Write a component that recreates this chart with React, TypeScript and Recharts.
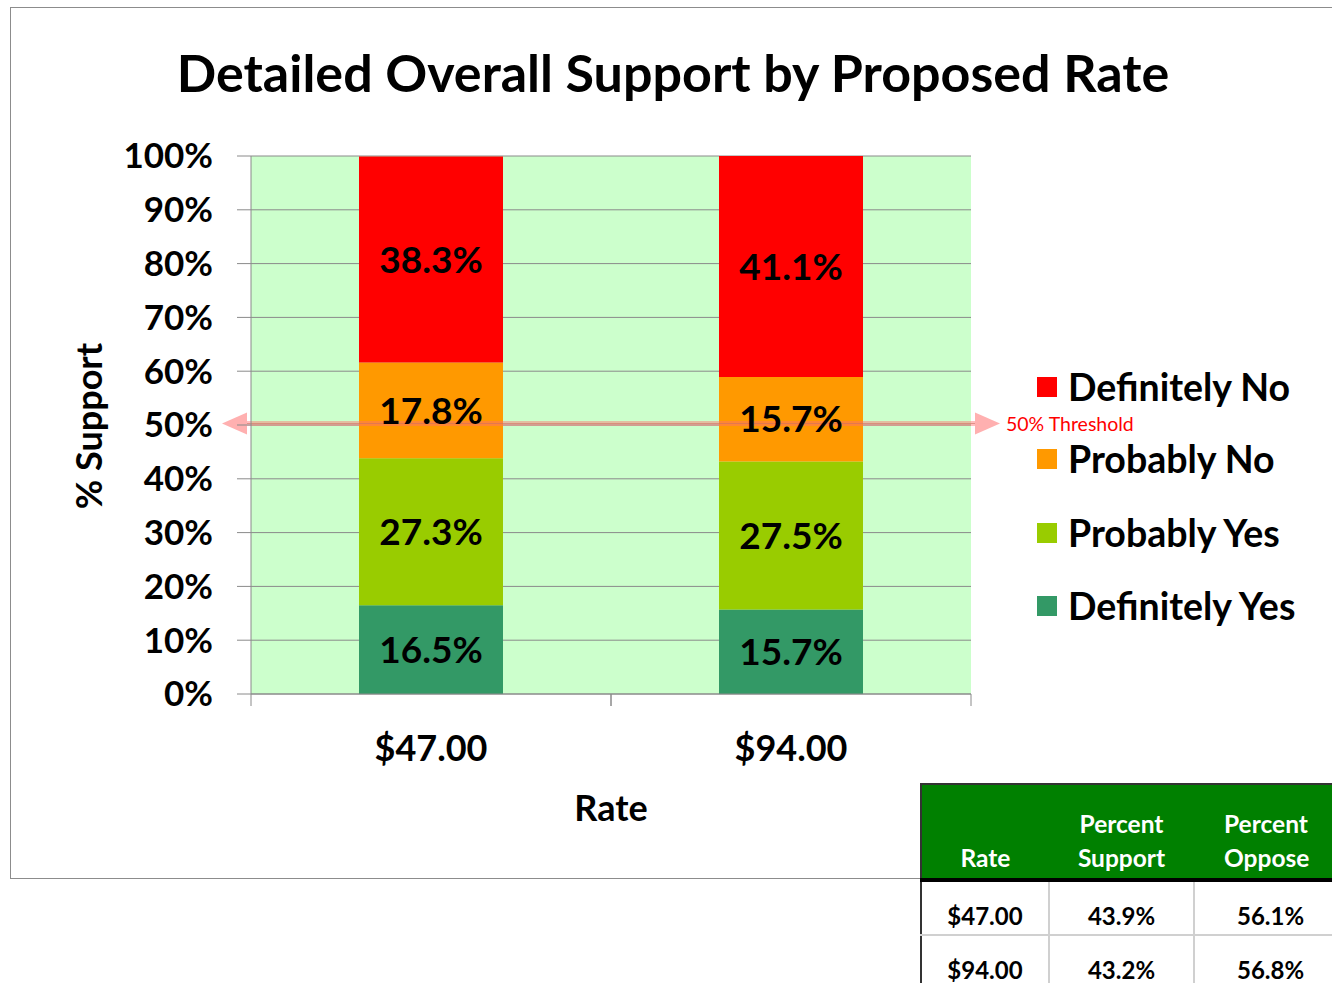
import React from 'react';
import { BarChart, Bar, XAxis, YAxis, CartesianGrid, ReferenceLine, LabelList } from 'recharts';

const rates = ['$47.00', '$94.00'];
const definitelyYes = [16.5, 15.7];
const probablyYes = [27.3, 27.5];
const probablyNo = [17.8, 15.7];
const definitelyNo = [38.3, 41.1];
const yTicks = [0, 10, 20, 30, 40, 50, 60, 70, 80, 90, 100];
const percentSupport = ['43.9%', '43.2%'];
const percentOppose = ['56.1%', '56.8%'];
const threshold = 50;

// stacking order bottom -> top
const series = [
    { key: 'definitelyYes', name: 'Definitely Yes', color: '#339966' },
    { key: 'probablyYes', name: 'Probably Yes', color: '#99CC00' },
    { key: 'probablyNo', name: 'Probably No', color: '#FF9900' },
    { key: 'definitelyNo', name: 'Definitely No', color: '#FF0000' },
];

const data = rates.map((rate, i) => ({
    rate,
    definitelyYes: definitelyYes[i],
    probablyYes: probablyYes[i],
    probablyNo: probablyNo[i],
    definitelyNo: definitelyNo[i],
}));

const FONT = 'Lato, "Open Sans", sans-serif';
const GRAY = '#8a8a8a';

const RateTick = (p: any) => {
    const { x, y, payload, width } = p;
    const band = (width || 720) / rates.length;
    return (
        <g>
            <line x1={x - band / 2} x2={x - band / 2} y1={y} y2={y + 12} stroke={GRAY} />
            <line x1={x + band / 2} x2={x + band / 2} y1={y} y2={y + 12} stroke={GRAY} />
            <text x={x} y={y + 53} textAnchor="middle" dominantBaseline="central"
                fontSize={36} fontWeight="bold" fill="#000" fontFamily={FONT}>
                {payload.value}
            </text>
        </g>
    );
};

const ThresholdLine = (p: any) => {
    const { x1, y1, x2 } = p;
    const y = y1 - 1.5;
    return (
        <g>
            <line x1={x1 - 4} x2={x2 + 4} y1={y} y2={y} stroke="#FF6F6F" strokeOpacity={0.45} strokeWidth={5} />
            <line x1={x1 - 4} x2={x2 + 4} y1={y} y2={y} stroke="#D07060" strokeOpacity={0.6} strokeWidth={1} />
            <polygon points={`${x1 - 29},${y} ${x1 - 4},${y - 11} ${x1 - 4},${y + 11}`} fill="#FFB0B0" />
            <polygon points={`${x2 + 29},${y} ${x2 + 4},${y - 11} ${x2 + 4},${y + 11}`} fill="#FFB0B0" />
            <text x={x2 + 35} y={y} dominantBaseline="central" fontSize={19.5} fill="#FF0000" fontFamily={FONT}>
                50% Threshold
            </text>
        </g>
    );
};

const cell: React.CSSProperties = {
    borderLeft: '2px solid #d0d0d0',
    borderBottom: '2px solid #d0d0d0',
    textAlign: 'center',
    fontWeight: 'bold',
    fontSize: 24,
    height: 49,
    padding: 0,
    paddingBottom: 3,
    verticalAlign: 'bottom',
    lineHeight: '30px',
};

const head: React.CSSProperties = {
    fontSize: 24.5,
    verticalAlign: 'bottom',
    lineHeight: '34px',
    padding: 0,
    paddingBottom: 3,
};

export default function App() {
    const legendItems = [...series].reverse();
    return (
        <div style={{ position: 'absolute', left: 0, top: 0, width: 1332, height: 983, overflow: 'hidden', background: '#fff', fontFamily: FONT }}>
            <div style={{ position: 'absolute', left: 10, top: 7, width: 1330, height: 872, border: '1.5px solid #8c8c8c', boxSizing: 'border-box' }} />
            <div style={{ position: 'absolute', left: 73, top: 39, width: 1200, textAlign: 'center', fontSize: 52, fontWeight: 'bold', lineHeight: '66px' }}>
                Detailed Overall Support by Proposed Rate
            </div>
            <div style={{ position: 'absolute', left: 88, top: 426, transform: 'translate(-50%, -50%) rotate(-90deg)', fontSize: 36, fontWeight: 'bold', whiteSpace: 'nowrap' }}>
                % Support
            </div>
            <div style={{ position: 'absolute', left: 511, width: 200, top: 785, textAlign: 'center', fontSize: 36, fontWeight: 'bold', lineHeight: '44px' }}>
                Rate
            </div>

            <div style={{ position: 'absolute', left: 0, top: 0 }}>
                <BarChart width={1332} height={983} data={data}
                    margin={{ top: 156, right: 361, bottom: 229, left: 101 }}
                    barCategoryGap="30%">
                    <CartesianGrid vertical={false} stroke={GRAY} fill="#CCFFCC" fillOpacity={1} />
                    <XAxis dataKey="rate" height={60} tickSize={0} tickMargin={0} tickLine={false}
                        axisLine={{ stroke: GRAY }} tick={<RateTick />} interval={0} />
                    <YAxis width={150} domain={[0, 100]} ticks={yTicks} allowDataOverflow
                        tickFormatter={(v: number) => `${v}%`} tickSize={14} tickMargin={24}
                        tickLine={{ stroke: GRAY }} axisLine={{ stroke: GRAY }}
                        tick={{ fill: '#000', fontSize: 35, fontWeight: 'bold', fontFamily: FONT }} />
                    <YAxis yAxisId="right" orientation="right" width={0} domain={[0, 100]}
                        tick={false} tickLine={false} axisLine={{ stroke: GRAY }} />
                    {series.map((s) => (
                        <Bar key={s.key} dataKey={s.key} name={s.name} stackId="a" fill={s.color} isAnimationActive={false}>
                            <LabelList dataKey={s.key} position="center" fill="#000" fontSize={37}
                                fontWeight="bold" fontFamily={FONT}
                                formatter={(v: any) => `${Number(v).toFixed(1)}%`} />
                        </Bar>
                    ))}
                    <ReferenceLine y={threshold} shape={<ThresholdLine />} />
                </BarChart>
            </div>

            {legendItems.map((s, i) => (
                <div key={s.key} style={{ position: 'absolute', left: 1037, top: [387, 459, 533, 606][i] - 24, height: 48, display: 'flex', alignItems: 'center' }}>
                    <div style={{ width: 20, height: 20, background: s.color }} />
                    <div style={{ marginLeft: 11, fontSize: 37.5, fontWeight: 'bold', whiteSpace: 'nowrap', lineHeight: '48px' }}>{s.name}</div>
                </div>
            ))}

            <table style={{ position: 'absolute', left: 920, top: 783, width: 420, tableLayout: 'fixed', borderCollapse: 'collapse', borderLeft: '2px solid #333', borderTop: '2px solid #333' }}>
                <colgroup>
                    <col style={{ width: 128 }} />
                    <col style={{ width: 145 }} />
                    <col />
                </colgroup>
                <thead>
                    <tr style={{ background: '#008000', color: '#fff', height: 96, borderBottom: '4px solid #000' }}>
                        <th style={{ ...head }}>Rate</th>
                        <th style={{ ...head }}>Percent<br />Support</th>
                        <th style={{ ...head, textAlign: 'left', paddingLeft: 30 }}>Percent<br />Oppose</th>
                    </tr>
                </thead>
                <tbody>
                    {rates.map((r, i) => (
                        <tr key={r}>
                            <td style={{ ...cell, borderLeft: 'none' }}>{r}</td>
                            <td style={cell}>{percentSupport[i]}</td>
                            <td style={{ ...cell, textAlign: 'left', paddingLeft: 42 }}>{percentOppose[i]}</td>
                        </tr>
                    ))}
                </tbody>
            </table>
        </div>
    );
}
